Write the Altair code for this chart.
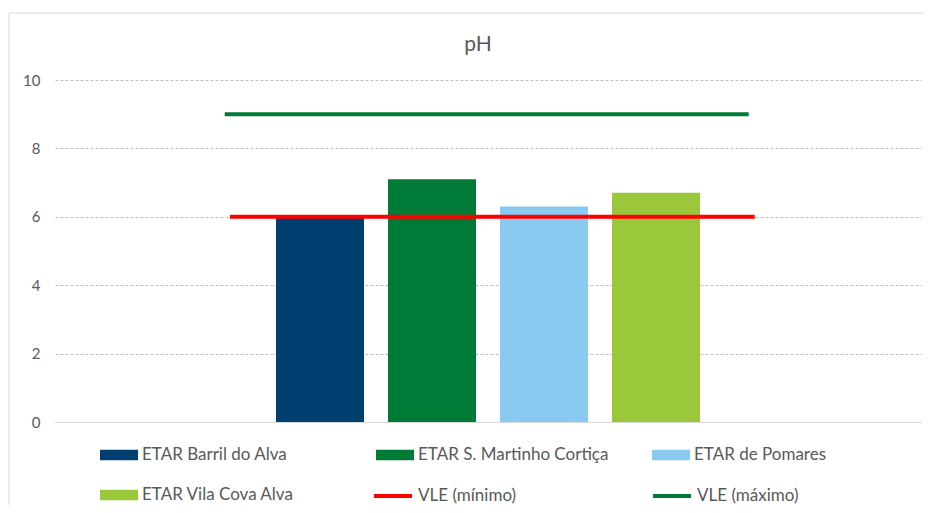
import altair as alt
import pandas as pd

# ---- data ----
series = ["ETAR Barril do Alva", "ETAR S. Martinho Cortiça", "ETAR de Pomares", "ETAR Vila Cova Alva"]
ph_values = [6.0, 7.1, 6.3, 6.7]
bar_colors = ["#003F6F", "#007A37", "#89CAF1", "#9BC83B"]

vle_names = ["VLE (mínimo)", "VLE (máximo)"]
vle_values = [6.0, 9.0]
vle_start = [0.202, 0.196]   # horizontal extent of the limit lines (fraction of plot width)
vle_end = [0.808, 0.801]
vle_colors = ["#FF0000", "#007A37"]

y_ticks = [0, 2, 4, 6, 8, 10]
x_slots = ["_inicio"] + series + ["_fim"]   # empty slots either side of the bars

FONT = "Lato"
TXT = "#595959"

bars_df = pd.DataFrame({"serie": series, "pH": ph_values})
vle_df = pd.DataFrame({"vle": vle_names, "valor": vle_values, "ini": vle_start, "fim": vle_end})
frame_df = pd.DataFrame({"f": [0]})

W, H = 866, 342

frame = alt.Chart(frame_df).mark_rect(filled=False, stroke="#D9D9D9", strokeWidth=1).encode(
    x=alt.value(-46), x2=alt.value(W + 40), y=alt.value(-67), y2=alt.value(H + 100)
)

y_enc = alt.Y(
    "pH:Q",
    scale=alt.Scale(domain=[0, 10], nice=False),
    axis=alt.Axis(
        values=y_ticks, title=None, grid=True, gridDash=[3, 2], gridColor="#BFBFBF",
        domain=False, ticks=False, labelPadding=15, labelFont=FONT, labelFontSize=15,
        labelColor=TXT, format="d",
    ),
)

bars = alt.Chart(bars_df).mark_bar().encode(
    x=alt.X(
        "serie:N",
        scale=alt.Scale(domain=x_slots, paddingInner=0.214, paddingOuter=0.973),
        axis=alt.Axis(title=None, labels=False, ticks=False, domain=True,
                      domainColor="#D9D9D9", domainWidth=1, grid=False),
    ),
    y=y_enc,
    fill=alt.Fill(
        "serie:N",
        scale=alt.Scale(domain=series, range=bar_colors),
        legend=alt.Legend(
            title=None, orient="none", legendX=45, legendY=356, direction="horizontal",
            columns=3, gridAlign="all", columnPadding=43, rowPadding=13,
            symbolType="M-1,-0.27H1V0.27H-1Z", symbolSize=1444, symbolStrokeWidth=0,
            labelFont=FONT, labelFontSize=17, labelColor=TXT, labelOffset=4, labelLimit=400,
        ),
    ),
)

rules = alt.Chart(vle_df).mark_rule(strokeWidth=4).encode(
    x=alt.X("ini:Q", scale=alt.Scale(domain=[0, 1], nice=False, zero=False), axis=None),
    x2="fim:Q",
    y=alt.Y("valor:Q", scale=alt.Scale(domain=[0, 10], nice=False)),
    stroke=alt.Stroke(
        "vle:N",
        scale=alt.Scale(domain=vle_names, range=vle_colors),
        legend=alt.Legend(
            title=None, orient="none", legendX=317, legendY=395, direction="horizontal",
            columns=2, gridAlign="all", columnPadding=125, rowPadding=4,
            symbolType="stroke", symbolSize=1444, symbolStrokeWidth=4,
            labelFont=FONT, labelFontSize=17, labelColor=TXT, labelOffset=4, labelLimit=400,
        ),
    ),
)

chart = (
    alt.layer(frame, bars, rules)
    .resolve_scale(x="independent", fill="independent", stroke="independent")
    .properties(
        width=W, height=H,
        autosize=alt.AutoSizeParams(type="none"),
        padding={"left": 47, "top": 72, "right": 3, "bottom": 83},
        title=alt.TitleParams("pH", font=FONT, fontSize=21, fontWeight="normal", color=TXT,
                              anchor="middle", offset=-42, dx=-10),
    )
    .configure(background="white", view=alt.ViewConfig(stroke=None))
)

chart.save("out.html", embed_options={"renderer": "svg", "actions": False})
